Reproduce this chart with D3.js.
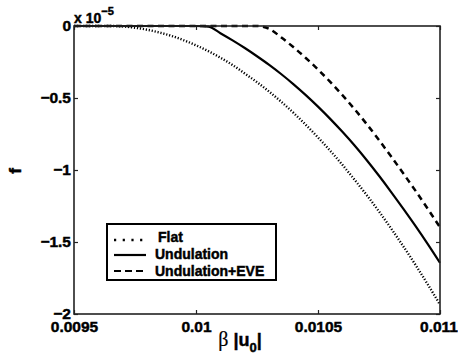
<!DOCTYPE html>
<html>
<head>
<meta charset="utf-8">
<script src="https://cdn.jsdelivr.net/npm/d3@7/dist/d3.min.js"></script>
<style>
  html, body { margin: 0; padding: 0; background: #fff; }
  svg { display: block; }
  text { font-family: "Liberation Sans", Arial, sans-serif; font-weight: bold; fill: #000;
         stroke: #000; stroke-width: 0.45px; }
</style>
</head>
<body>
<svg id="chart" width="458" height="362"></svg>
<script>
// beta*|u0| sample points
const beta = [
  0.00950, 0.00955, 0.00960, 0.00965, 0.00970, 0.00975, 0.00980, 0.00985,
  0.00990, 0.00995, 0.01000, 0.01005, 0.01010, 0.01015, 0.01020, 0.01025,
  0.01030, 0.01035, 0.01040, 0.01045, 0.01050, 0.01055, 0.01060, 0.01065,
  0.01070, 0.01075, 0.01080, 0.01085, 0.01090, 0.01095, 0.01100
];

// f in units of 1e-5
const flat = [
  0, 0, 0, 0, -0.003, -0.012, -0.026, -0.045,
  -0.069, -0.099, -0.134, -0.174, -0.220, -0.271, -0.330, -0.390,
  -0.456, -0.527, -0.604, -0.686, -0.774, -0.866, -0.964, -1.068,
  -1.175, -1.288, -1.407, -1.531, -1.660, -1.795, -1.935
];

const undulation = [
  0, 0, 0, 0, 0, 0, 0, 0,
  0, 0, 0, -0.004, -0.050, -0.100, -0.153, -0.210,
  -0.270, -0.335, -0.405, -0.480, -0.560, -0.645, -0.735, -0.830,
  -0.932, -1.040, -1.153, -1.270, -1.390, -1.515, -1.645
];

const undulationEve = [
  0, 0, 0, 0, 0, 0, 0, 0,
  0, 0, 0, 0, 0, 0, 0, 0,
  -0.020, -0.080, -0.148, -0.222, -0.302, -0.388, -0.480, -0.578,
  -0.682, -0.792, -0.907, -1.025, -1.145, -1.270, -1.398
];

const seriesNames = ["Flat", "Undulation", "Undulation+EVE"];

const xTicks = [0.0095, 0.01, 0.0105, 0.011];
const xTickLabels = ["0.0095", "0.01", "0.0105", "0.011"];
const yTicks = [0, -0.5, -1, -1.5, -2];
const yTickLabels = ["0", "\u22120.5", "\u22121", "\u22121.5", "\u22122"];

const svg = d3.select("#chart");
const plotL = 74, plotR = 440, plotT = 26, plotB = 314;

const x = d3.scaleLinear().domain([0.0095, 0.011]).range([plotL, plotR]);
const y = d3.scaleLinear().domain([-2, 0]).range([plotB, plotT]);

// axes with inward ticks on all four sides
const tickLen = 4;
const axB = svg.append("g").attr("transform", `translate(0,${plotB})`)
  .call(d3.axisBottom(x).tickValues(xTicks).tickFormat((d, i) => xTickLabels[i])
    .tickSizeInner(-tickLen).tickSizeOuter(0).tickPadding(5));
const axT = svg.append("g").attr("transform", `translate(0,${plotT})`)
  .call(d3.axisTop(x).tickValues(xTicks).tickFormat("")
    .tickSizeInner(-tickLen).tickSizeOuter(0));
const axL = svg.append("g").attr("transform", `translate(${plotL},0)`)
  .call(d3.axisLeft(y).tickValues(yTicks).tickFormat((d, i) => yTickLabels[i])
    .tickSizeInner(-tickLen).tickSizeOuter(0).tickPadding(3));
const axR = svg.append("g").attr("transform", `translate(${plotR},0)`)
  .call(d3.axisRight(y).tickValues(yTicks).tickFormat("")
    .tickSizeInner(-tickLen).tickSizeOuter(0));

[axB, axT, axL, axR].forEach(g => {
  g.select(".domain").remove();
  g.selectAll(".tick line").attr("stroke", "#222").attr("stroke-width", 1.2);
  g.selectAll(".tick text").style("font-size", "15.5px")
    .style("font-family", "Liberation Sans, Arial, sans-serif").style("font-weight", "bold")
    .attr("fill", "#000");
});
axB.selectAll(".tick text").attr("dy", "0.85em");
// last x label sits against the right edge of the page
axB.selectAll(".tick text").filter((d, i) => i === xTicks.length - 1).attr("dx", -1.5);

// curves
const lineGen = vals => d3.line()
  .x((d, i) => x(beta[i]))
  .y(d => y(d))
  .curve(d3.curveMonotoneX)(vals);

svg.append("path").attr("d", lineGen(flat))
  .attr("fill", "none").attr("stroke", "#000").attr("stroke-width", 2.4)
  .attr("stroke-dasharray", "1.2,1.8");
svg.append("path").attr("d", lineGen(undulation))
  .attr("fill", "none").attr("stroke", "#000").attr("stroke-width", 2.2);
svg.append("path").attr("d", lineGen(undulationEve))
  .attr("fill", "none").attr("stroke", "#000").attr("stroke-width", 2.5)
  .attr("stroke-dasharray", "6,4.5");

// plot frame
svg.append("rect").attr("x", plotL).attr("y", plotT)
  .attr("width", plotR - plotL).attr("height", plotB - plotT)
  .attr("fill", "none").attr("stroke", "#222").attr("stroke-width", 1.6);

// exponent label
const expo = svg.append("text").attr("x", 74).attr("y", 23).style("font-size", "14px");
expo.append("tspan").text("x 10");
expo.append("tspan").attr("dy", -8).style("font-size", "11px").text("\u22125");

// axis titles
svg.append("text").attr("transform", "translate(21,171) rotate(-90)")
  .attr("text-anchor", "middle").style("font-size", "17px").text("f");

const xl = svg.append("text").attr("x", 240).attr("y", 346)
  .attr("text-anchor", "middle").style("font-size", "18px");
xl.append("tspan").style("font-family", "Liberation Serif, serif").style("font-weight", "normal")
  .style("font-size", "20px").style("stroke-width", "0.2px").text("\u03B2");
xl.append("tspan").text(" |u");
xl.append("tspan").attr("dy", 6).style("font-size", "13px").text("0");
xl.append("tspan").attr("dy", -6).text("|");

// legend
const lg = svg.append("g");
lg.append("rect").attr("x", 107).attr("y", 224).attr("width", 169).attr("height", 56)
  .attr("fill", "#fff").attr("stroke", "#000").attr("stroke-width", 2);
const legendRows = [
  { name: seriesNames[0], y: 240, dash: "2.2,6.5", w: 2.4, ty: 237 },
  { name: seriesNames[1], y: 255, dash: null, w: 2.2, ty: 254 },
  { name: seriesNames[2], y: 271, dash: "7,4", w: 2, ty: 271 }
];
legendRows.forEach((r, i) => {
  lg.append("line").attr("x1", 114).attr("x2", 146).attr("y1", r.y).attr("y2", r.y)
    .attr("stroke", "#000").attr("stroke-width", r.w)
    .attr("stroke-dasharray", r.dash);
  lg.append("text").attr("x", i === 0 ? 158 : 155).attr("y", r.ty).attr("dy", "0.35em")
    .style("font-size", "14px").text(r.name);
});
</script>
</body>
</html>
